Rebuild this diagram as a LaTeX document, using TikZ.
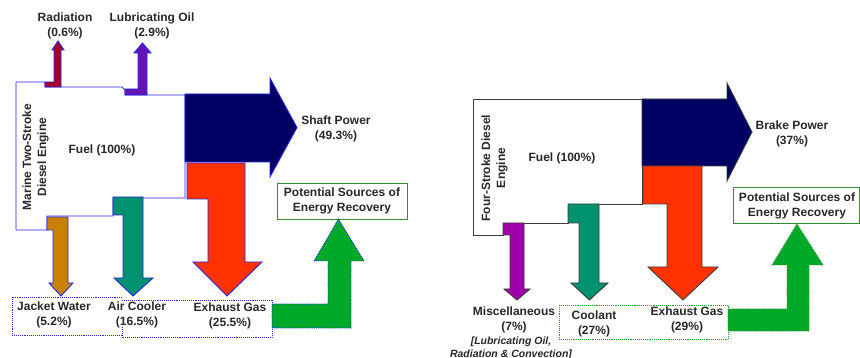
\documentclass[tikz,border=0pt]{standalone}
\usepackage{fontspec}
\setmainfont{Liberation Sans}
\definecolor{blueline}{RGB}{40,40,225}
\definecolor{grayline}{RGB}{60,60,60}
\definecolor{radred}{RGB}{165,0,40}
\definecolor{lubpurple}{RGB}{100,20,180}
\definecolor{navyc}{RGB}{0,0,100}
\definecolor{exred}{RGB}{255,50,0}
\definecolor{acgreen}{RGB}{0,145,110}
\definecolor{jwbrown}{RGB}{200,130,0}
\definecolor{miscmag}{RGB}{160,0,170}
\definecolor{recgreen}{RGB}{0,170,40}
\definecolor{boxgreen}{RGB}{50,140,50}
\definecolor{txt}{RGB}{40,40,40}
\tikzset{
  lbl/.style={font=\bfseries\fontsize{12}{15}\selectfont, text=txt, align=center, inner sep=0pt},
  ilbl/.style={font=\bfseries\itshape\fontsize{10.5}{13}\selectfont, text=txt, align=center, inner sep=0pt},
  lout/.style={draw=blueline, line width=0.9pt, line join=miter},
  rout/.style={draw=grayline, line width=0.9pt, line join=miter},
  dotbox/.style={densely dotted, line width=0.9pt},
}
\begin{document}
\begin{tikzpicture}[x=1pt,y=-1pt]
\useasboundingbox[fill=white] (0,0) rectangle (860,358);

% ================= LEFT PANEL =================
% engine outline
\draw[lout, fill=white] (16,82) -- (45,82) -- (45,87) -- (122,87) -- (125,90) -- (125,95) -- (185,95)
  -- (185,198) -- (113,198) -- (113,216) -- (47,216) -- (47,230) -- (16,230) -- cycle;
% radiation
\draw[lout, fill=radred] (45,82) -- (54,82) -- (54,50) -- (52,50) -- (58,41) -- (64,50) -- (61,50) -- (61,87) -- (45,87) -- cycle;
% lubricating oil
\draw[lout, fill=lubpurple] (125,89) -- (138,89) -- (138,53) -- (134,53) -- (142.5,43) -- (151,53) -- (147,53) -- (147,95) -- (125,95) -- cycle;
% shaft power
\draw[lout, fill=navyc] (185,94) -- (270,94) -- (270,78) -- (297,127.5) -- (270,177) -- (270,162) -- (185,162) -- cycle;
% exhaust gas
\draw[lout, fill=exred] (187,163) -- (245,163) -- (245,262) -- (262,262) -- (227,296) -- (193,262) -- (208,262) -- (208,199) -- (187,199) -- cycle;
% air cooler
\draw[lout, fill=acgreen] (113,197) -- (143,197) -- (143,278) -- (153,278) -- (133,296) -- (114,278) -- (123,278) -- (123,215) -- (113,215) -- cycle;
% jacket water
\draw[lout, fill=jwbrown] (47,217) -- (68,217) -- (68,283) -- (73,283) -- (61,296) -- (49,283) -- (53,283) -- (53,230) -- (47,230) -- cycle;
% dotted boxes
\draw[dotbox, draw=blueline] (122,297) -- (12,297) -- (12,335) -- (122,335);
\draw[dotbox, draw=blueline] (122,327) -- (122,337) -- (272,337) -- (272,300) -- (122,300);
% recovery arrow
\draw[dotbox, draw=blueline, fill=recgreen] (272,304) -- (328,304) -- (328,261) -- (314,261) -- (338.5,219) -- (364,261) -- (351,261) -- (351,328) -- (272,328) -- cycle;
\node[draw=boxgreen, line width=0.9pt, minimum width=130pt, minimum height=36pt, inner sep=0pt] (potL) at (342,201) {};

\node[lbl] (radL) at (65,25.5) {Radiation\\(0.6\%)};
\node[lbl] (lubL) at (152,25.5) {Lubricating Oil\\(2.9\%)};
\node[lbl] (fuelL) at (102,150) {Fuel (100\%)};
\node[lbl, rotate=90] (engL) at (35.5,157) {Marine Two-Stroke\\Diesel Engine};
\node[lbl] (shaftL) at (336,129) {Shaft Power\\(49.3\%)};
\node[lbl] (potLt) at (342,200.5) {Potential Sources of\\Energy Recovery};
\node[lbl] (jwL) at (54,315) {Jacket Water\\(5.2\%)};
\node[lbl] (acL) at (137,315) {Air Cooler\\(16.5\%)};
\node[lbl] (exL) at (230,316) {Exhaust Gas\\(25.5\%)};

% ================= RIGHT PANEL =================
\draw[rout, fill=white] (473,99) -- (642,99) -- (642,204) -- (568,204) -- (568,223) -- (503,223) -- (503,235) -- (473,235) -- cycle;
% brake power
\draw[rout, fill=navyc] (642,99) -- (727,99) -- (727,83) -- (752,132) -- (727,181) -- (727,166) -- (642,166) -- cycle;
% exhaust
\draw[rout, fill=exred] (643,166) -- (702,166) -- (702,267) -- (718,267) -- (683,300) -- (648,267) -- (667,267) -- (667,204) -- (643,204) -- cycle;
% coolant
\draw[rout, fill=acgreen] (568,204) -- (599,204) -- (599,283) -- (608,283) -- (589.5,300) -- (571,283) -- (579,283) -- (579,223) -- (568,223) -- cycle;
% miscellaneous
\draw[rout, fill=miscmag] (503,223) -- (524,223) -- (524,289) -- (530,289) -- (517,300) -- (504,289) -- (510,289) -- (510,235) -- (503,235) -- cycle;
% dotted box
\draw[dotbox, draw=recgreen] (559,305) rectangle (728,339);
% recovery arrow
\draw[dotbox, draw=boxgreen, fill=recgreen] (728,309) -- (787,309) -- (787,265) -- (772,265) -- (797,224) -- (823,265) -- (809,265) -- (809,331) -- (728,331) -- cycle;
\node[draw=boxgreen, line width=0.9pt, minimum width=126pt, minimum height=36pt, inner sep=0pt] (potR) at (796,205) {};

\node[lbl, rotate=90] (engR) at (494.5,168) {Four-Stroke Diesel\\Engine};
\node[lbl] (fuelR) at (562,158) {Fuel (100\%)};
\node[lbl] (brakeR) at (792,134) {Brake Power\\(37\%)};
\node[lbl] (potRt) at (797,205.5) {Potential Sources of\\Energy Recovery};
\node[lbl] (miscR) at (514,319.5) {Miscellaneous\\(7\%)};
\node[ilbl] (miscR2) at (511,348) {[Lubricating Oil,\\Radiation \& Convection]};
\node[lbl] (coolR) at (594,323.5) {Coolant\\(27\%)};
\node[lbl] (exR) at (687,320) {Exhaust Gas\\(29\%)};
\end{tikzpicture}
\end{document}
